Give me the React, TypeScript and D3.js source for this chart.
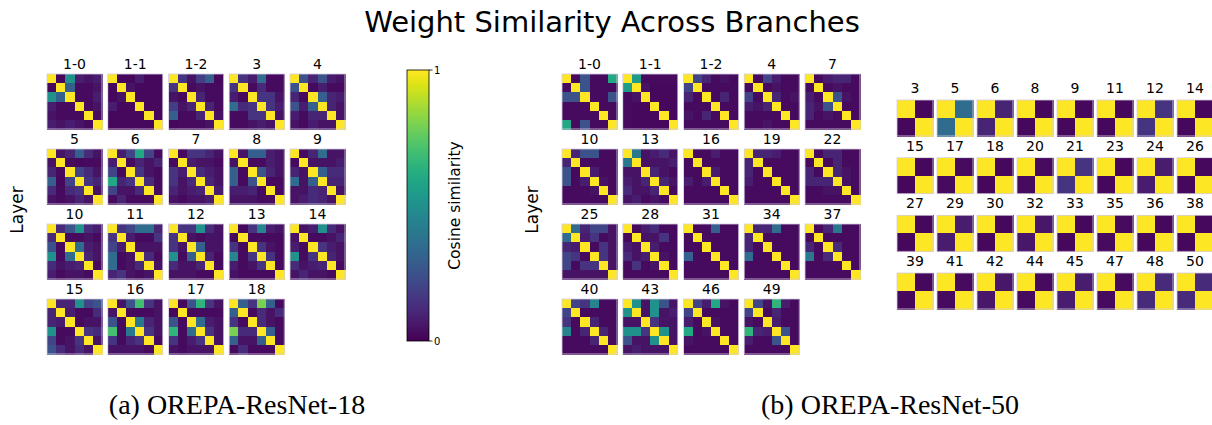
import React from "react";
import * as d3 from "d3";

// ---------- DATA ----------
// Each 6x6 matrix is symmetric with a diagonal of 1; values are the upper triangle
// in order (0,1),(0,2),(0,3),(0,4),(0,5),(1,2),(1,3),(1,4),(1,5),(2,3),(2,4),(2,5),(3,4),(3,5),(4,5)
const r18Layers = ["1-0","1-1","1-2","3","4","5","6","7","8","9","10","11","12","13","14","15","16","17","18"];
const r18Upper: number[][] = [
  [0.02,0.5,0.08,0.05,0.08, 0.3,0.03,0.03,0.05, 0.03,0.03,0.08, 0.03,0.05, 0.03],
  [0.02,0.02,0.08,0.02,0.02, 0.05,0.02,0.02,0.02, 0.02,0.02,0.02, 0.02,0.02, 0.02],
  [0.15,0.05,0.18,0.3,0.02, 0.03,0.05,0.03,0.03, 0.1,0.03,0.03, 0.1,0.03, 0.05],
  [0.15,0.08,0.35,0.03,0.03, 0.03,0.12,0.03,0.03, 0.15,0.15,0.05, 0.15,0.08, 0.05],
  [0.25,0.1,0.25,0.08,0.05, 0.03,0.08,0.03,0.03, 0.3,0.1,0.08, 0.1,0.05, 0.05],
  [0.05,0.1,0.3,0.12,0.05, 0.03,0.02,0.03,0.03, 0.2,0.12,0.05, 0.15,0.1, 0.05],
  [0.08,0.2,0.6,0.2,0.03, 0.03,0.1,0.05,0.1, 0.15,0.05,0.03, 0.12,0.03, 0.03],
  [0.03,0.15,0.15,0.1,0.05, 0.08,0.05,0.05,0.03, 0.12,0.08,0.05, 0.1,0.05, 0.08],
  [0.05,0.3,0.3,0.08,0.05, 0.03,0.03,0.08,0.05, 0.25,0.1,0.05, 0.03,0.03, 0.03],
  [0.03,0.1,0.35,0.05,0.05, 0.05,0.05,0.05,0.08, 0.3,0.12,0.12, 0.1,0.1, 0.05],
  [0.12,0.25,0.5,0.12,0.08, 0.03,0.03,0.05,0.03, 0.35,0.08,0.05, 0.1,0.05, 0.03],
  [0.15,0.2,0.35,0.35,0.1, 0.08,0.03,0.03,0.15, 0.05,0.05,0.05, 0.12,0.03, 0.05],
  [0.15,0.15,0.5,0.12,0.05, 0.05,0.03,0.05,0.05, 0.3,0.05,0.05, 0.1,0.03, 0.03],
  [0.02,0.15,0.45,0.08,0.05, 0.03,0.03,0.03,0.03, 0.15,0.05,0.03, 0.15,0.03, 0.03],
  [0.05,0.08,0.5,0.12,0.05, 0.03,0.03,0.05,0.1, 0.15,0.08,0.05, 0.1,0.05, 0.03],
  [0.1,0.1,0.5,0.2,0.25, 0.08,0.03,0.03,0.12, 0.03,0.05,0.05, 0.15,0.12, 0.05],
  [0.05,0.25,0.7,0.15,0.05, 0.03,0.03,0.03,0.05, 0.4,0.1,0.05, 0.15,0.05, 0.03],
  [0.02,0.25,0.65,0.15,0.05, 0.03,0.03,0.03,0.03, 0.35,0.08,0.05, 0.15,0.05, 0.05],
  [0.3,0.15,0.8,0.3,0.03, 0.03,0.12,0.05,0.12, 0.12,0.05,0.03, 0.3,0.03, 0.03],
];

const r50Layers = ["1-0","1-1","1-2","4","7","10","13","16","19","22","25","28","31","34","37","40","43","46","49"];
const r50Upper: number[][] = [
  [0.03,0.25,0.03,0.03,0.6, 0.25,0.03,0.03,0.03, 0.03,0.03,0.25, 0.03,0.03, 0.03],
  [0.55,0.03,0.03,0.03,0.03, 0.05,0.02,0.02,0.02, 0.02,0.02,0.02, 0.02,0.02, 0.02],
  [0.2,0.1,0.03,0.05,0.03, 0.03,0.03,0.03,0.03, 0.03,0.1,0.03, 0.03,0.03, 0.03],
  [0.03,0.2,0.08,0.03,0.03, 0.03,0.05,0.03,0.03, 0.1,0.03,0.05, 0.03,0.03, 0.03],
  [0.03,0.08,0.1,0.1,0.03, 0.03,0.05,0.03,0.03, 0.25,0.05,0.03, 0.03,0.03, 0.03],
  [0.1,0.25,0.25,0.03,0.03, 0.03,0.03,0.03,0.03, 0.08,0.03,0.03, 0.05,0.03, 0.03],
  [0.4,0.05,0.08,0.12,0.05, 0.05,0.05,0.05,0.08, 0.1,0.05,0.03, 0.1,0.05, 0.03],
  [0.03,0.03,0.08,0.03,0.03, 0.03,0.03,0.03,0.03, 0.08,0.03,0.03, 0.03,0.03, 0.03],
  [0.1,0.1,0.08,0.03,0.03, 0.03,0.03,0.03,0.03, 0.03,0.03,0.03, 0.03,0.03, 0.03],
  [0.03,0.1,0.1,0.03,0.03, 0.03,0.1,0.03,0.03, 0.1,0.05,0.03, 0.05,0.03, 0.03],
  [0.35,0.1,0.2,0.2,0.05, 0.08,0.15,0.03,0.05, 0.03,0.15,0.05, 0.15,0.05, 0.05],
  [0.03,0.08,0.12,0.03,0.03, 0.05,0.05,0.15,0.03, 0.08,0.03,0.03, 0.05,0.03, 0.03],
  [0.03,0.03,0.3,0.03,0.03, 0.03,0.03,0.03,0.03, 0.03,0.03,0.03, 0.03,0.03, 0.03],
  [0.1,0.1,0.35,0.03,0.03, 0.03,0.03,0.03,0.03, 0.03,0.03,0.03, 0.03,0.03, 0.03],
  [0.03,0.1,0.4,0.03,0.03, 0.03,0.03,0.03,0.03, 0.12,0.03,0.03, 0.03,0.03, 0.03],
  [0.2,0.15,0.45,0.03,0.03, 0.03,0.03,0.03,0.03, 0.1,0.03,0.03, 0.1,0.03, 0.03],
  [0.5,0.05,0.5,0.25,0.05, 0.05,0.5,0.05,0.08, 0.15,0.05,0.05, 0.5,0.05, 0.05],
  [0.2,0.08,0.6,0.05,0.03, 0.03,0.03,0.03,0.03, 0.05,0.03,0.03, 0.03,0.03, 0.03],
  [0.2,0.05,0.65,0.08,0.03, 0.03,0.1,0.03,0.03, 0.08,0.03,0.03, 0.25,0.03, 0.03],
];

// 2x2 matrices (two branches): off-diagonal similarity
const r50SmallLayers = ["3","5","6","8","9","11","12","14","15","17","18","20","21","23","24","26",
  "27","29","30","32","33","35","36","38","39","41","42","44","45","47","48","50"];
const r50SmallValues = [0.02,0.35,0.1,0.02,0.02,0.02,0.15,0.02, 0.02,0.03,0.02,0.03,0.15,0.02,0.08,0.02,
  0.02,0.08,0.02,0.06,0.02,0.03,0.02,0.02, 0.02,0.03,0.06,0.03,0.08,0.03,0.12,0.12];

const colorTicks = [0, 1];

// ---------- HELPERS ----------
function fullMatrix(upper: number[]): number[][] {
  const n = 6;
  const m: number[][] = Array.from({ length: n }, () => Array(n).fill(1));
  let k = 0;
  for (let i = 0; i < n; i++)
    for (let j = i + 1; j < n; j++) {
      m[i][j] = upper[k];
      m[j][i] = upper[k];
      k++;
    }
  return m;
}
function small(v: number): number[][] {
  return [[1, v], [v, 1]];
}

const color = d3.scaleSequential(d3.interpolateViridis).domain([0, 1]);
const FONT = "DejaVu Sans, sans-serif";
const SERIF = "Liberation Serif, Times New Roman, serif";

function Heat({ m, x, y, size, title, titleGap }: { m: number[][]; x: number; y: number; size: number; title: string; titleGap: number }) {
  const n = m.length;
  const band = d3.scaleBand<number>().domain(d3.range(n)).range([0, size]);
  return (
    <g transform={`translate(${x},${y})`}>
      <text x={size / 2} y={-titleGap} textAnchor="middle" fontFamily={FONT} fontSize={14} fill="#000">{title}</text>
      <g shapeRendering="crispEdges">
        {m.map((row, i) =>
          row.map((v, j) => (
            <rect key={`${i}-${j}`} x={band(j)} y={band(i)} width={band.bandwidth() + 0.5} height={band.bandwidth() + 0.5} fill={color(v)} />
          ))
        )}
      </g>
      <rect x={0} y={0} width={size} height={size} fill="none" stroke="#d6cce0" strokeWidth={0.8} />
    </g>
  );
}

function Colorbar({ x, y, w, h }: { x: number; y: number; w: number; h: number }) {
  const scale = d3.scaleLinear().domain([0, 1]).range([y + h, y]);
  const steps = d3.range(0, 1.0001, 1 / 200);
  return (
    <g>
      <defs>
        <linearGradient id="vir" x1="0" y1="1" x2="0" y2="0">
          {steps.map((s, i) => (
            <stop key={i} offset={s} stopColor={color(s)} />
          ))}
        </linearGradient>
      </defs>
      <rect x={x} y={y} width={w} height={h} fill="url(#vir)" stroke="#000" strokeWidth={0.8} />
      {colorTicks.map((t) => (
        <g key={t}>
          <line x1={x + w} x2={x + w + 3.5} y1={scale(t)} y2={scale(t)} stroke="#000" strokeWidth={0.8} />
          <text x={x + w + 5} y={scale(t)} dy="0.35em" fontFamily={FONT} fontSize={10} fill="#000">{t}</text>
        </g>
      ))}
      <text transform={`translate(${x + w + 31},${y + h / 2}) rotate(-90)`} textAnchor="middle" fontFamily={FONT} fontSize={15.5} fill="#000">Cosine similarity</text>
    </g>
  );
}

export default function App() {
  const W = 1212, H = 425;
  const bigSize = 55;
  const bigRow = d3.scaleLinear().domain([0, 3]).range([74, 299]);
  const leftCol = d3.scaleLinear().domain([0, 4]).range([47, 290]);
  const rightCol = d3.scaleLinear().domain([0, 4]).range([562, 805]);
  const smallSize = 36;
  const smallCol = d3.scaleLinear().domain([0, 7]).range([897, 1177]);
  const smallRow = d3.scaleLinear().domain([0, 3]).range([100, 273]);

  return (
    <svg width={W} height={H} style={{ position: "absolute", left: 0, top: 0, background: "#fff" }}>
      <rect width={W} height={H} fill="#fff" />
      <text x={612} y={32} textAnchor="middle" fontFamily={FONT} fontSize={29} fill="#000">Weight Similarity Across Branches</text>

      <text transform={`translate(23,210) rotate(-90)`} textAnchor="middle" fontFamily={FONT} fontSize={17} fill="#000">Layer</text>
      <text transform={`translate(538,210) rotate(-90)`} textAnchor="middle" fontFamily={FONT} fontSize={17} fill="#000">Layer</text>

      {r18Layers.map((name, k) => (
        <Heat key={"a" + name} m={fullMatrix(r18Upper[k])} x={leftCol(k % 5)} y={bigRow(Math.floor(k / 5))} size={bigSize} title={name} titleGap={5} />
      ))}
      {r50Layers.map((name, k) => (
        <Heat key={"b" + name} m={fullMatrix(r50Upper[k])} x={rightCol(k % 5)} y={bigRow(Math.floor(k / 5))} size={bigSize} title={name} titleGap={5} />
      ))}
      {r50SmallLayers.map((name, k) => (
        <Heat key={"c" + name} m={small(r50SmallValues[k])} x={smallCol(k % 8)} y={smallRow(Math.floor(k / 8))} size={smallSize} title={name} titleGap={7} />
      ))}

      <Colorbar x={407} y={70} w={22} h={271} />

      <text x={237} y={414} textAnchor="middle" fontFamily={SERIF} fontSize={28} fill="#000">(a) OREPA-ResNet-18</text>
      <text x={890} y={414} textAnchor="middle" fontFamily={SERIF} fontSize={28} fill="#000">(b) OREPA-ResNet-50</text>
    </svg>
  );
}
